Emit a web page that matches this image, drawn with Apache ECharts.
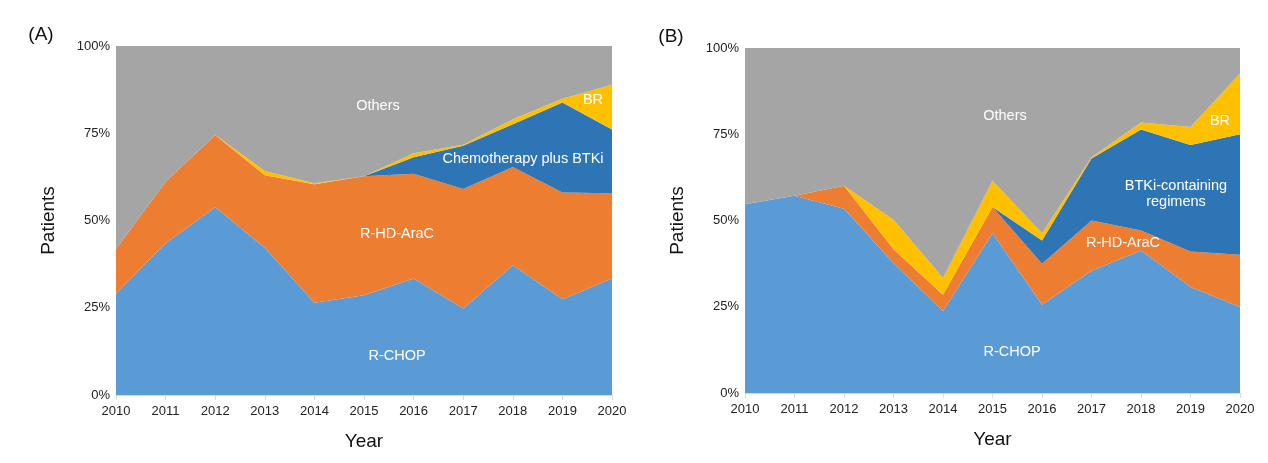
<!DOCTYPE html>
<html>
<head>
<meta charset="utf-8">
<script src="https://cdn.jsdelivr.net/npm/echarts@6/dist/echarts.min.js"></script>
<style>html,body{margin:0;padding:0;background:#fff}#c{width:1268px;height:463px}</style>
</head>
<body>
<div id="c"></div>
<script>
var years = ['2010','2011','2012','2013','2014','2015','2016','2017','2018','2019','2020'];
var yTicks = [0, 25, 50, 75, 100];

// Panel A
var aRCHOP  = [29.1, 43.5, 53.8, 42.2, 26.4, 28.6, 33.4, 24.8, 37.2, 27.4, 33.4];
var aRHDAraC= [12.7, 17.6, 20.7, 20.8, 34.0, 34.1, 30.0, 34.2, 28.1, 30.6, 24.4];
var aChemoBTKi=[0, 0, 0, 0, 0, 0, 4.7, 12.4, 12.3, 25.8, 18.3];
var aBR     = [0, 0, 0, 1.2, 0.3, 0, 1.2, 0.3, 1.4, 1.1, 12.8];
var aOthers = [58.2, 38.9, 25.5, 35.8, 39.3, 37.3, 30.7, 28.3, 21.0, 15.1, 11.1];

// Panel B
var bRCHOP  = [54.7, 57.2, 53.4, 37.6, 23.8, 46.3, 25.6, 35.4, 41.3, 30.7, 24.9];
var bRHDAraC= [0, 0, 6.7, 4.1, 4.7, 7.6, 11.9, 14.6, 5.8, 10.3, 15.2];
var bBTKi   = [0, 0, 0, 0, 0, 0, 6.7, 18.0, 29.3, 30.9, 34.9];
var bBR     = [0, 0, 0, 8.5, 4.8, 7.6, 2.1, 0.3, 2.0, 5.2, 17.6];
var bOthers = [45.3, 42.8, 39.9, 49.8, 66.7, 38.5, 53.7, 31.7, 21.6, 22.9, 7.4];

var C = {rchop:'#5B9BD5', araC:'#ED7D31', btki:'#2E75B6', br:'#FFC000', oth:'#A5A5A5'};
var FONT = 'Liberation Sans, Arial, sans-serif';

function area(name, data, color, idx, stack) {
  return {
    name: name, type: 'line', stack: stack, data: data,
    xAxisIndex: idx, yAxisIndex: idx,
    symbol: 'none', smooth: false,
    lineStyle: {width: 0}, areaStyle: {color: color, opacity: 1},
    itemStyle: {color: color}, emphasis: {disabled: true}
  };
}
function xAx(idx) {
  return {
    type: 'category', gridIndex: idx, data: years, boundaryGap: false,
    axisLine: {lineStyle: {color: '#d9d9d9', width: 1}},
    axisTick: {show: true, length: 5, lineStyle: {color: '#d9d9d9'}},
    axisLabel: {color: '#222', fontSize: 13, fontFamily: FONT, margin: 10},
    name: 'Year', nameLocation: 'middle', nameGap: 37,
    nameTextStyle: {color: '#111', fontSize: 19, fontFamily: FONT},
    z: 10
  };
}
function yAx(idx) {
  return {
    type: 'value', gridIndex: idx, min: yTicks[0], max: yTicks[yTicks.length-1], interval: 25,
    axisLine: {show: false}, axisTick: {show: false}, splitLine: {show: false},
    axisLabel: {color: '#222', fontSize: 13, fontFamily: FONT, formatter: '{value}%', margin: 6},
    name: 'Patients', nameLocation: 'middle', nameGap: 58, nameRotate: 90,
    nameTextStyle: {color: '#111', fontSize: 19, fontFamily: FONT}
  };
}
function txt(text, x, y, size, color) {
  return {type: 'text', x: x, y: y, z: 100,
    style: {text: text, fill: color || '#111', font: size + 'px ' + FONT, textAlign: 'center', textVerticalAlign: 'middle'}};
}

var chart = echarts.init(document.getElementById('c'), null, {renderer: 'canvas'});
chart.setOption({
  animation: false,
  grid: [
    {left: 116, right: 656, top: 46, bottom: 68},
    {left: 745, right: 28, top: 48, bottom: 70}
  ],
  xAxis: [xAx(0), xAx(1)],
  yAxis: [yAx(0), yAx(1)],
  series: [
    area('R-CHOP', aRCHOP, C.rchop, 0, 'a'),
    area('R-HD-AraC', aRHDAraC, C.araC, 0, 'a'),
    area('Chemotherapy plus BTKi', aChemoBTKi, C.btki, 0, 'a'),
    area('BR', aBR, C.br, 0, 'a'),
    area('Others', aOthers, C.oth, 0, 'a'),
    area('R-CHOP', bRCHOP, C.rchop, 1, 'b'),
    area('R-HD-AraC', bRHDAraC, C.araC, 1, 'b'),
    area('BTKi-containing regimens', bBTKi, C.btki, 1, 'b'),
    area('BR', bBR, C.br, 1, 'b'),
    area('Others', bOthers, C.oth, 1, 'b')
  ],
  graphic: [
    txt('(A)', 41, 35, 19),
    txt('(B)', 671, 37, 19),
    txt('Others', 378, 106, 14.5, '#fff'),
    txt('Chemotherapy plus BTKi', 523, 159, 14.5, '#fff'),
    txt('BR', 593, 100, 14.5, '#fff'),
    txt('R-HD-AraC', 397, 234, 14.5, '#fff'),
    txt('R-CHOP', 397, 356, 14.5, '#fff'),
    txt('Others', 1005, 116, 14.5, '#fff'),
    txt('BTKi-containing', 1176, 186, 14.5, '#fff'),
    txt('regimens', 1176, 202, 14.5, '#fff'),
    txt('BR', 1220, 121, 14.5, '#fff'),
    txt('R-HD-AraC', 1123, 243, 14.5, '#fff'),
    txt('R-CHOP', 1012, 352, 14.5, '#fff')
  ]
});
</script>
</body>
</html>
